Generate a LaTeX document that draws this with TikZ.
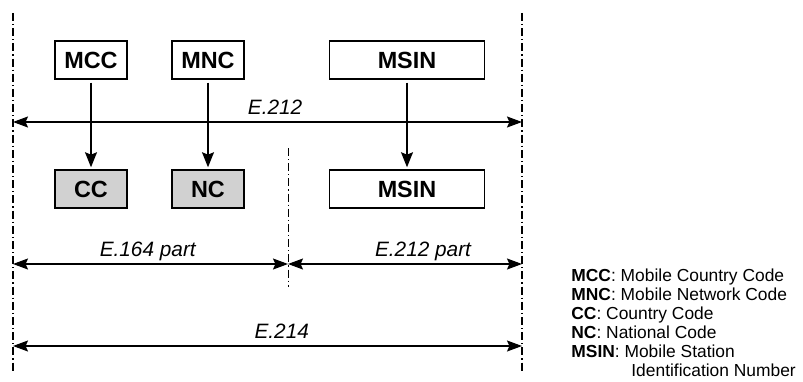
\documentclass[tikz,border=0pt]{standalone}
\usepackage{fontspec}
\setmainfont{Liberation Sans}
\usetikzlibrary{
    arrows.meta,
    positioning
}
\definecolor{codegray}{gray}{0.82}
\tikzset{
    field/.style={draw, line width=0.75pt, minimum height=19pt, inner sep=0pt,
        font=\fontsize{11.7}{14}\selectfont\bfseries},
    shortfield/.style={field, minimum width=36pt},
    longfield/.style={field, minimum width=77.5pt},
    derived/.style={fill=codegray},
    borderline/.style={line width=0.8pt, dash pattern=on 4pt off 1.5pt on 0.6pt off 1.5pt},
    feed/.style={line width=0.6pt, -{Stealth[length=7.5pt, width=6pt, inset=1.2pt]},
        shorten <=1.5pt, shorten >=1pt},
    dimline/.style={line width=0.6pt,
        {Stealth[length=7.5pt, width=5.5pt, inset=1.2pt]}-{Stealth[length=7.5pt, width=5.5pt, inset=1.2pt]}},
    spanlabel/.style={above=3.5pt, inner sep=0pt, text depth=0pt,
        font=\fontsize{10.4}{12}\selectfont\itshape},
}

\begin{document}
\begin{tikzpicture}[x=0.5pt, y=0.5pt]
    \useasboundingbox (0, 0) rectangle (803, 381);
    % boundaries
    \coordinate (west top) at (13, 368);
    \coordinate (west bottom) at (13, 9);
    \coordinate (east top) at (522, 368);
    \coordinate (east bottom) at (522, 9);
    \coordinate (mid top) at (288, 233);
    \coordinate (mid bottom) at (288, 94);
    \draw[borderline] (west top) -- (west bottom);
    \draw[borderline] (east top) -- (east bottom);
    \draw[borderline, line width=0.5pt] (mid top) -- (mid bottom);

    % IMSI fields
    \node[shortfield] (mcc) at (91, 321) {MCC};
    \node[shortfield] (mnc) at (208, 321) {MNC};
    \node[longfield] (msin top) at (407, 321) {MSIN};
    \node[shortfield, derived] (cc) at (91, 192) {CC};
    \node[shortfield, derived] (nc) at (208, 192) {NC};
    \node[longfield] (msin bottom) at (407, 192) {MSIN};
    \draw[feed] (mcc) -- (cc);
    \draw[feed] (mnc) -- (nc);
    \draw[feed] (msin top) -- (msin bottom);

    % spans
    \coordinate (w212) at (13, 259);
    \coordinate (e212) at (522, 259);
    \coordinate (w164) at (13, 117);
    \coordinate (m164) at (288, 117);
    \coordinate (e164) at (522, 117);
    \coordinate (w214) at (13, 35);
    \coordinate (e214) at (522, 35);
    \draw (w212) edge[dimline] node[spanlabel, pos=0.515] {E.212} (e212);
    \draw (w164) edge[dimline] node[spanlabel, pos=0.49] {E.164 part} (m164);
    \draw (m164) edge[dimline] node[spanlabel, pos=0.577] {E.212 part} (e164);
    \draw (w214) edge[dimline] node[spanlabel, pos=0.528] {E.214} (e214);

    % legend
    \node[anchor=north west, inner sep=0pt, align=left,
        font=\fontsize{8.7}{9.5}\selectfont] (key) at (571, 113) {
        \textbf{MCC}: Mobile Country Code\\
        \textbf{MNC}: Mobile Network Code\\
        \textbf{CC}: Country Code\\
        \textbf{NC}: National Code\\
        \textbf{MSIN}: Mobile Station\\
        \hspace*{30pt}Identification Number};
\end{tikzpicture}
\end{document}
